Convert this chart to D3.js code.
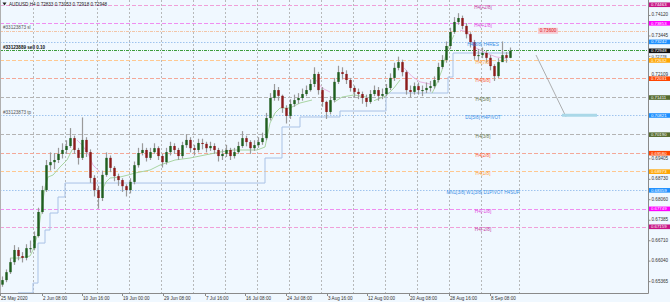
<!DOCTYPE html>
<html>
<head>
<meta charset="utf-8">
<script src="https://cdn.jsdelivr.net/npm/d3@7"></script>
<style>
  body { margin: 0; background: #f0f8ff; }
  svg { display: block; font-family: "Liberation Sans", Arial, sans-serif; }
</style>
</head>
<body>
<div id="chart"></div>
<script>
// AUDUSD H4 candles (one mark = 16h block)
var firstOpen = 0.6525;
var closes = [0.6540,0.6566,0.6599,0.6639,0.6619,0.6613,0.6645,0.6645,0.6685,0.6764,
  0.6836,0.6918,0.6928,0.6935,0.6955,0.6968,0.6981,0.7007,0.6968,0.6942,
  0.7001,0.6961,0.6876,0.6836,0.6810,0.6886,0.6942,0.6909,0.6882,0.6869,
  0.6849,0.6836,0.6863,0.6918,0.6958,0.6968,0.6942,0.6961,0.6974,0.6948,
  0.6928,0.6961,0.6981,0.6968,0.6948,0.6984,0.7001,0.6974,0.6968,0.6991,
  0.6988,0.6974,0.6981,0.6968,0.6948,0.6955,0.6968,0.6948,0.6961,0.6981,
  0.7007,0.6994,0.6974,0.6984,0.6994,0.7007,0.7073,0.7139,0.7165,0.7146,
  0.7106,0.7080,0.7119,0.7132,0.7139,0.7152,0.7165,0.7185,0.7218,0.7165,
  0.7126,0.7093,0.7132,0.7192,0.7224,0.7218,0.7198,0.7172,0.7159,0.7152,
  0.7139,0.7126,0.7152,0.7165,0.7146,0.7152,0.7172,0.7205,0.7238,0.7257,
  0.7224,0.7165,0.7159,0.7178,0.7165,0.7165,0.7172,0.7178,0.7198,0.7241,
  0.7264,0.7310,0.7356,0.7389,0.7402,0.7376,0.7349,0.7323,0.7277,0.7280,
  0.7287,0.7271,0.7244,0.7211,0.7257,0.7280,0.7271,0.72948];
var highs = [0.6552,0.6575,0.6612,0.6655,0.6648,0.6632,0.6658,0.6670,0.6700,0.6778,
  0.6850,0.6935,0.6960,0.6958,0.6975,0.6990,0.7000,0.7040,0.7015,0.6975,
  0.7075,0.7010,0.6970,0.6885,0.6850,0.6900,0.6960,0.6950,0.6915,0.6890,
  0.6875,0.6855,0.6875,0.6930,0.6975,0.6990,0.6975,0.6975,0.6990,0.6980,
  0.6955,0.6975,0.6995,0.6990,0.6975,0.6995,0.7020,0.7010,0.6985,0.7005,
  0.7005,0.6995,0.6995,0.6990,0.6975,0.6970,0.6985,0.6975,0.6975,0.6995,
  0.7030,0.7015,0.7000,0.7000,0.7010,0.7025,0.7090,0.7155,0.7185,0.7175,
  0.7150,0.7115,0.7135,0.7150,0.7155,0.7170,0.7180,0.7200,0.7240,0.7225,
  0.7175,0.7130,0.7145,0.7205,0.7245,0.7240,0.7230,0.7205,0.7180,0.7170,
  0.7160,0.7150,0.7165,0.7180,0.7175,0.7170,0.7185,0.7220,0.7255,0.7275,
  0.7265,0.7230,0.7180,0.7190,0.7190,0.7180,0.7190,0.7195,0.7210,0.7255,
  0.7280,0.7325,0.7370,0.7405,0.7418,0.7410,0.7385,0.7355,0.7330,0.7300,
  0.7305,0.7295,0.7280,0.7250,0.7270,0.7325,0.7290,0.7305];
var lows = [0.6518,0.6533,0.6560,0.6590,0.6605,0.6598,0.6605,0.6630,0.6638,0.6680,
  0.6758,0.6830,0.6900,0.6905,0.6925,0.6940,0.6955,0.6975,0.6955,0.6920,
  0.6935,0.6945,0.6860,0.6815,0.6775,0.6800,0.6880,0.6895,0.6865,0.6850,
  0.6830,0.6815,0.6825,0.6855,0.6910,0.6950,0.6930,0.6935,0.6955,0.6935,
  0.6910,0.6920,0.6950,0.6955,0.6935,0.6940,0.6975,0.6960,0.6950,0.6960,
  0.6970,0.6960,0.6965,0.6955,0.6930,0.6935,0.6945,0.6935,0.6940,0.6955,
  0.6975,0.6980,0.6955,0.6965,0.6975,0.6985,0.7000,0.7065,0.7130,0.7130,
  0.7090,0.7055,0.7070,0.7110,0.7120,0.7130,0.7145,0.7160,0.7175,0.7150,
  0.7110,0.7070,0.7085,0.7125,0.7185,0.7200,0.7185,0.7160,0.7140,0.7135,
  0.7120,0.7110,0.7120,0.7145,0.7130,0.7135,0.7145,0.7165,0.7195,0.7230,
  0.7210,0.7150,0.7140,0.7150,0.7150,0.7145,0.7155,0.7160,0.7170,0.7190,
  0.7235,0.7255,0.7300,0.7350,0.7380,0.7365,0.7335,0.7305,0.7265,0.7260,
  0.7270,0.7255,0.7230,0.7195,0.7205,0.7260,0.7255,0.7270];

// trailing lines: [bar, price]
var greenTrail = [
  [[2,0.66125],[4.5,0.66125],[7,0.66191],[7.75,0.66388],[9,0.66947],[10,0.67803],[10.75,0.68461],
   [11.5,0.68790],[12.75,0.68855],[14.5,0.69119],[16.25,0.69349],[17.5,0.69678],[18.25,0.69777]],
  [[25,0.68362],[26,0.68625],[27,0.68757],[29.5,0.68790],[31.5,0.68855],[33.25,0.68921],[34.5,0.68954],
   [37,0.69020],[39.5,0.69184],[43.25,0.69349],[47,0.69415],[50.75,0.69514],[54.5,0.69612],
   [57.75,0.69678],[63.75,0.69678],[65.75,0.69777],[67,0.70566],[68.25,0.70895],[69.5,0.71060],
   [72,0.71060],[74.5,0.71224],[77.5,0.71323]],
  [[83,0.71250],[85,0.71420],[88,0.71490],[91,0.71420]],
  [[93,0.71300],[96,0.71460],[98,0.71720],[99.5,0.71980]],
  [[107.5,0.71550],[108.5,0.71800],[110,0.72310],[111,0.72840],[112,0.73180],[113,0.73460]]
];
var pinkTrail = [
  [[18.75,0.70007],[20,0.69842],[21.5,0.69579],[22.75,0.69184],[24.5,0.68954]],
  [[78.5,0.71981],[80,0.71718],[82,0.71586]],
  [[100.5,0.72380],[102.5,0.72100],[104.5,0.71920],[107,0.71850]],
  [[114.5,0.73620],[116.5,0.73560],[118,0.73070],[121,0.72870],[123.5,0.72740],[126,0.72700]]
];
// lower step line: [start bar, price]
var blueStep = [[4,0.6498],[7.75,0.65302],[9,0.66618],[10.75,0.67046],[12,0.67606],[14,0.68132],
  [15.75,0.68592],[65.75,0.69415],[70,0.70435],[74.5,0.70764],[84.5,0.70961],[96,0.71553],
  [111.5,0.72080],[112.75,0.72869],[127,0.72869]];

var timeLabels = ["25 May 2020","2 Jun 08:00","10 Jun 16:00","19 Jun 00:00","29 Jun 08:00","7 Jul 16:00",
  "16 Jul 08:00","24 Jul 08:00","3 Aug 16:00","12 Aug 00:00","20 Aug 08:00","28 Aug 16:00","8 Sep 08:00"];
var timeLabelBars = [-0.5,10,20,30,40.25,50.75,60.75,71,81.25,91.25,101.75,111.75,122];
var gridBars = [7.75,15.75,23.75,31.75,39.75,47.75,55.75,63.75,71.75,79.75,87.75,95.75,103.75,111.75,119.75];

// ticks that are not hidden under the level boxes
var priceTicks = [0.74120,0.73445,0.72778,0.72109,0.69405,0.68730,0.68060,
  0.67385,0.66710,0.66040,0.65365];

var levelNames = ["H4[+2/8]","H4[+1/8]","H4[8/8] H4RES","H4[7/8]","H4[6/8]","H4[5/8]","D1[5/8] H4PIVOT",
  "H4[3/8]","H4[2/8]","H4[1/8]","MN1[3/8] W1[3/8] D1PIVOT H4SUP","H4[-1/8]","H4[-2/8]"];
var levelValues = [0.74463,0.73853,0.73242,0.72632,0.72031,0.71411,0.70821,0.70190,0.69580,0.68973,
  0.68359,0.67749,0.67159];
var levelBox = ["#c71585","#ff00ff","#1e90ff","#ffa500","#ff4500","#556b2f","#1e90ff","#556b2f",
  "#ff4500","#ffa500","#1e90ff","#ff00ff","#c71585"];
var levelLine = ["#f0a0d8","#f08ef0","#9fc4ee","#ffc890","#f4a898","#b4b4b4","#9fc4ee","#b4b4b4",
  "#f4a898","#ffc890","#9fc4ee","#f08ef0","#f0a0d8"];
var levelText = ["#c040a0","#e040e0","#3a8ee6","#ff9a30","#ff5a30","#6e7a50","#3a8ee6","#6e7a50",
  "#ff5a30","#ff9a30","#3a8ee6","#e040e0","#c040a0"];

var bid = 0.72948, sellPrice = 0.72960, stopLoss = 0.73600;

var W = 670, H = 302, plotR = 648, plotB = 293;

var svg = d3.select("#chart").append("svg")
  .attr("width", W).attr("height", H);

svg.append("rect").attr("width", W).attr("height", H).attr("fill", "#f0f8ff");

var x = d3.scaleLinear().domain([0, 127]).range([2, 510]);
var y = d3.scaleLinear().domain([0.64975, 0.74613]).range([plotB, 0]);

var plot = svg.append("g");
plot.append("clipPath").attr("id", "clip").append("rect")
  .attr("width", plotR).attr("height", plotB);
var g = plot.append("g").attr("clip-path", "url(#clip)");

// vertical grid
g.selectAll(".vgrid").data(gridBars).enter().append("line")
  .attr("x1", d => Math.round(x(d)) + 0.5).attr("x2", d => Math.round(x(d)) + 0.5)
  .attr("y1", 0).attr("y2", plotB)
  .attr("stroke", "#a8a8a8").attr("stroke-width", 0.8).attr("stroke-dasharray", "2,2");
// chart shift marker
g.append("line").attr("x1", Math.round(x(129.25)) + 0.5).attr("x2", Math.round(x(129.25)) + 0.5)
  .attr("y1", 0).attr("y2", plotB)
  .attr("stroke", "#a8a8a8").attr("stroke-width", 0.8).attr("stroke-dasharray", "2,2");

// murrey levels
levelValues.forEach(function(v, i) {
  var dotted = levelBox[i] == "#1e90ff";
  g.append("line")
    .attr("x1", 0).attr("x2", plotR)
    .attr("y1", Math.round(y(v)) + 0.5).attr("y2", Math.round(y(v)) + 0.5)
    .attr("stroke", levelLine[i]).attr("stroke-width", 1)
    .attr("stroke-dasharray", dotted ? "1.5,1.5" : "4,2");
});

// stop loss and order lines
g.append("line").attr("x1", 0).attr("x2", plotR)
  .attr("y1", Math.round(y(stopLoss)) + 0.5).attr("y2", Math.round(y(stopLoss)) + 0.5)
  .attr("stroke", "#f3c6a8").attr("stroke-dasharray", "3,1,1,1");
g.append("line").attr("x1", 0).attr("x2", plotR)
  .attr("y1", Math.round(y(sellPrice)) + 0.5).attr("y2", Math.round(y(sellPrice)) + 0.5)
  .attr("stroke", "#3c9c3c").attr("stroke-width", 1.2).attr("stroke-dasharray", "3,1,1,1");

// step line
var stepLine = d3.line().x(d => x(d[0])).y(d => y(d[1])).curve(d3.curveStepAfter);
g.append("path").datum(blueStep).attr("d", stepLine)
  .attr("fill", "none").attr("stroke", "#a9c2e6").attr("stroke-width", 1);

var trail = d3.line().x(d => x(d[0])).y(d => y(d[1]));
g.selectAll(".gtr").data(greenTrail).enter().append("path").attr("d", trail)
  .attr("fill", "none").attr("stroke", "#a0d098").attr("stroke-width", 0.9);
g.selectAll(".ptr").data(pinkTrail).enter().append("path").attr("d", trail)
  .attr("fill", "none").attr("stroke", "#e6ade0").attr("stroke-width", 0.9);

// candles
var bars = closes.map(function(c, i) {
  return { i: i, o: i ? closes[i - 1] : firstOpen, c: c, h: highs[i], l: lows[i] };
});
var cg = g.selectAll(".candle").data(bars).enter().append("g");
cg.append("line")
  .attr("x1", d => Math.round(x(d.i)) + 0.5).attr("x2", d => Math.round(x(d.i)) + 0.5)
  .attr("y1", d => y(d.h)).attr("y2", d => y(d.l))
  .attr("stroke", "#9a9a9a").attr("stroke-width", 1.2);
cg.append("rect")
  .attr("x", d => Math.round(x(d.i)) - 0.7).attr("width", 2.4)
  .attr("y", d => y(Math.max(d.o, d.c)))
  .attr("height", d => Math.max(1, Math.abs(y(d.o) - y(d.c))))
  .attr("fill", d => d.c >= d.o ? "#1f5f1f" : "#8c1c1c");

// drawn objects: trendline and target zone
g.append("line").attr("x1", x(133.5)).attr("y1", y(0.72803)).attr("x2", x(141)).attr("y2", y(0.70770))
  .attr("stroke", "#9a9a9a").attr("stroke-width", 0.8);
g.append("line").attr("x1", x(140)).attr("x2", x(148.75)).attr("y1", y(0.70821)).attr("y2", y(0.70821))
  .attr("stroke", "#aad8e8").attr("stroke-width", 3);

var fs = 4.6;
// level labels
levelNames.forEach(function(n, i) {
  g.append("text").attr("x", 483).attr("y", y(levelValues[i]) + 4)
    .attr("text-anchor", "middle").attr("font-size", fs).attr("fill", levelText[i]).text(n);
});

// stop label box
g.append("rect").attr("x", 538).attr("y", y(stopLoss) - 3).attr("width", 20).attr("height", 6)
  .attr("fill", "#f8c8d0");
g.append("text").attr("x", 548).attr("y", y(stopLoss) + 1.7).attr("text-anchor", "middle")
  .attr("font-size", fs).attr("fill", "#e02020").text("0.73600");

// order texts
svg.append("text").attr("x", 3).attr("y", y(stopLoss) - 1.6).attr("font-size", fs).attr("fill", "#555")
  .text("#33123873 sl");
svg.append("text").attr("x", 3).attr("y", y(sellPrice) - 1.2).attr("font-size", fs).attr("font-weight", "bold")
  .attr("fill", "#111").text("#33123889 sell 0.10");
svg.append("text").attr("x", 3).attr("y", y(0.70821) - 1.6).attr("font-size", fs).attr("fill", "#555")
  .text("#33123873 tp");

// title
svg.append("path").attr("d", "M2.5,2.5 L6.5,2.5 L4.5,5.5 Z").attr("fill", "#222");
svg.append("text").attr("x", 9).attr("y", 5.8).attr("font-size", fs).attr("fill", "#222")
  .text("AUDUSD,H4  0.72833 0.73053 0.72918 0.72948");

// frame
svg.append("line").attr("x1", plotR + 0.5).attr("x2", plotR + 0.5).attr("y1", 0).attr("y2", plotB + 0.5)
  .attr("stroke", "#8a8a8a");
svg.append("line").attr("x1", 0).attr("x2", plotR + 0.5).attr("y1", plotB + 0.5).attr("y2", plotB + 0.5)
  .attr("stroke", "#8a8a8a");
svg.append("line").attr("x1", 0.5).attr("x2", 0.5).attr("y1", 0).attr("y2", plotB)
  .attr("stroke", "#b0b0b0");

// price axis
var boxVals = levelValues.concat([bid]);
var boxCols = levelBox.concat(["#111111"]);
var yAxis = d3.axisRight(y).tickValues(priceTicks).tickSize(2).tickFormat(d3.format(".5f"));
var ya = svg.append("g").attr("transform", "translate(" + (plotR + 0.5) + ",0)").call(yAxis);
ya.select(".domain").remove();
ya.selectAll("text").attr("fill", "#333").attr("x", 3)
  .attr("font-family", "Liberation Sans, Arial, sans-serif")
  .each(function(d) {
    // squeeze a label between the price boxes next to it
    var below = boxVals.some(function(v) { var dd = y(v) - y(d); return dd > 0 && dd < 6; });
    var above = boxVals.some(function(v) { var dd = y(d) - y(v); return dd > 0 && dd < 6; });
    var t = d3.select(this);
    if (below && above) t.attr("font-size", 4.2).attr("dy", "0.3em");
    else if (below) t.attr("font-size", fs).attr("dy", "-0.2em");
    else t.attr("font-size", fs).attr("dy", "0.2em");
  });
ya.selectAll("line").attr("stroke", "#8a8a8a");

// price boxes on axis
boxVals.forEach(function(v, i) {
  var yy = y(v);
  svg.append("rect").attr("x", plotR + 1).attr("y", yy - 2.1).attr("width", W - plotR - 1).attr("height", 4.6)
    .attr("fill", boxCols[i]);
  svg.append("text").attr("x", plotR + 3).attr("y", yy + 1.6).attr("font-size", 4.3).attr("fill", "#fff")
    .text(d3.format(".5f")(v));
});

// time axis
var xa = svg.append("g");
timeLabels.forEach(function(t, i) {
  var xx = x(timeLabelBars[i]);
  xa.append("line").attr("x1", Math.round(xx) + 0.5).attr("x2", Math.round(xx) + 0.5)
    .attr("y1", plotB + 1).attr("y2", plotB + 3).attr("stroke", "#8a8a8a");
  xa.append("text").attr("x", xx + 1).attr("y", 299.5).attr("font-size", fs).attr("fill", "#333").text(t);
});
</script>
</body>
</html>
